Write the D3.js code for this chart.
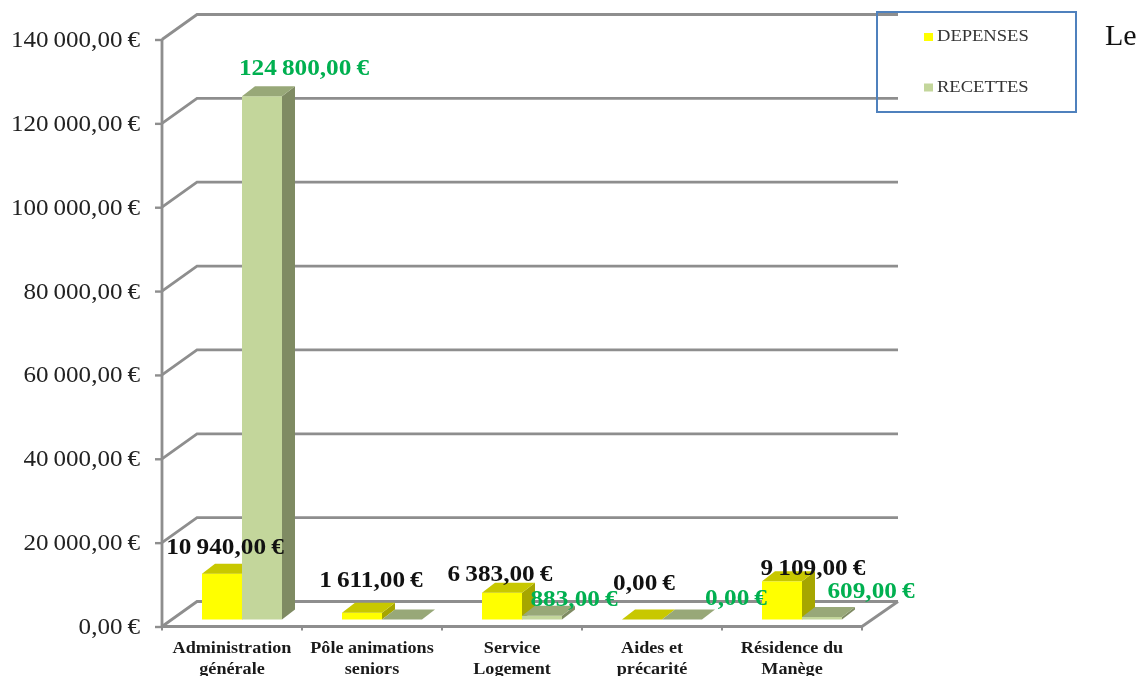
<!DOCTYPE html>
<html><head><meta charset="utf-8">
<script src="https://cdnjs.cloudflare.com/ajax/libs/d3/7.8.5/d3.min.js"></script>
<style>html,body{margin:0;padding:0;background:#fff;overflow:hidden}svg{display:block;filter:blur(.35px)}text{font-family:"Liberation Serif",serif}</style>
</head><body><svg id="c" width="1143" height="676"></svg>
<script>
const categories=[["Administration","générale"],["Pôle animations","seniors"],["Service","Logement"],["Aides et","précarité"],["Résidence du","Manège"]];
const seriesNames=["DEPENSES","RECETTES"];
const depenses=[10940,1611,6383,0,9109];
const recettes=[124800,0,883,0,609];
const recetteLabels=[124800,null,883,0,609];
const yTicks=[0,20000,40000,60000,80000,100000,120000,140000];
const sideNote="Le";

const fr=d3.formatLocale({decimal:",",thousands:"\u2009",grouping:[3],currency:["","\u2009€"]});
const money=v=>fr.format("$,.2f")(v);
const svg=d3.select("#c");
const W={x0:162,x1:862,y0:626.5,y1:39.5,dx:35,dy:-25,bdx:13,bdy:-10,lift:7};
const x=d3.scaleBand().domain(d3.range(categories.length)).range([W.x0,W.x1]);
const inner=d3.scaleBand().domain([0,1]).range([40,120]);
const y=d3.scaleLinear().domain([0,140000]).range([W.y0,W.y1]);
const GRID="#8e8e8e";

// wall and floor
const grid=svg.append("g").attr("fill","none").attr("stroke",GRID).attr("stroke-width",2.8);
grid.selectAll("path.g").data(yTicks).join("path").attr("class","g")
  .attr("d",t=>`M${W.x0},${y(t)}L${W.x0+W.dx},${y(t)+W.dy}L${W.x1+W.dx+1},${y(t)+W.dy}`);
grid.append("path").attr("d",`M${W.x0},${W.y1}V${W.y0}H${W.x1}L${W.x1+W.dx+1},${W.y0+W.dy}`);

// axis
const ax=svg.append("g").attr("transform",`translate(${W.x0},0)`)
  .call(d3.axisLeft(y).tickValues(yTicks).tickSize(7).tickPadding(0).tickFormat(money));
ax.select(".domain").remove();
ax.selectAll("line").attr("stroke",GRID).attr("stroke-width",2.4);
ax.selectAll("text").attr("fill","#222").attr("font-size",23).attr("text-anchor","end")
  .attr("dy",0).attr("x",0).attr("y",0)
  .attr("transform",()=>`translate(-22,7) scale(1.09,1)`);

// x ticks
svg.append("g").attr("stroke",GRID).attr("stroke-width",2).selectAll("line")
  .data(d3.range(categories.length+1)).join("line")
  .attr("x1",i=>W.x0+i*x.step()).attr("x2",i=>W.x0+i*x.step())
  .attr("y1",W.y0).attr("y2",W.y0+4);

// bars
const fills=[{front:"#ffff00",top:"#c8c800",side:"#a6a600"},{front:"#c3d69b",top:"#98a878",side:"#7f8b63"}];
[depenses,recettes].forEach((vals,s)=>{
  const g=svg.append("g").selectAll("g").data(vals).join("g");
  const c=fills[s];
  const X=(i)=>x(i)+inner(s), B=inner.bandwidth(), base=y(0)-W.lift;
  g.append("rect").attr("x",(d,i)=>X(i)).attr("width",B).attr("y",d=>y(d)-W.lift).attr("height",d=>base-(y(d)-W.lift)).attr("fill",c.front);
  g.append("path").attr("fill",c.side).attr("d",(d,i)=>{const a=X(i)+B,t=y(d)-W.lift;return `M${a},${t}l${W.bdx},${W.bdy}V${base+W.bdy}L${a},${base}Z`});
  g.append("path").attr("fill",c.top).attr("d",(d,i)=>{const a=X(i),t=y(d)-W.lift;return `M${a},${t}l${W.bdx},${W.bdy}h${B}l${-W.bdx},${-W.bdy}Z`});
});

// category labels
const cat=svg.append("g").attr("font-weight","bold").attr("font-size",16.5).attr("fill","#1a1a1a").attr("text-anchor","middle");
categories.forEach((lines,i)=>lines.forEach((t,j)=>{
  cat.append("text").attr("transform",`translate(${x(i)+x.bandwidth()/2},${653+j*20.5}) scale(1.1,1)`).text(t);
}));

// data labels: [dx from column centre, dy from bar top]
const labelOffsets={dep:[[-17,-20],[-11,-26],[-22,-12],[-18,-30],[11,-6]],rec:[[22,-21],null,[12,-10],[34,-15],[29,-19]]};
const lab=svg.append("g").attr("font-size",23).attr("font-weight","bold").attr("text-anchor","middle");
depenses.forEach((v,i)=>{
  const o=labelOffsets.dep[i];
  lab.append("text").attr("fill","#111").attr("transform",`translate(${x(i)+inner(0)+inner.bandwidth()+o[0]},${y(v)-W.lift+o[1]}) scale(1.1,1)`).text(money(v));
});
recetteLabels.forEach((v,i)=>{
  if(v===null)return;
  const o=labelOffsets.rec[i];
  lab.append("text").attr("fill","#00b050").attr("transform",`translate(${x(i)+inner(1)+inner.bandwidth()+o[0]},${y(v)-W.lift+o[1]}) scale(1.1,1)`).text(money(v));
});

// legend
const lg=svg.append("g");
lg.append("rect").attr("x",877).attr("y",12).attr("width",199).attr("height",100).attr("fill","none").attr("stroke","#4f81bd").attr("stroke-width",2);
seriesNames.forEach((n,i)=>{
  lg.append("rect").attr("x",924).attr("y",33+i*50.5).attr("width",9).attr("height",8).attr("fill",fills[i].front);
  lg.append("text").attr("transform",`translate(937,${41+i*50.5}) scale(1.16,1)`).attr("font-size",16).attr("fill","#333").text(n);
});
svg.append("text").attr("x",1105).attr("y",45).attr("font-size",30).attr("fill","#111").text(sideNote);
</script></body></html>
